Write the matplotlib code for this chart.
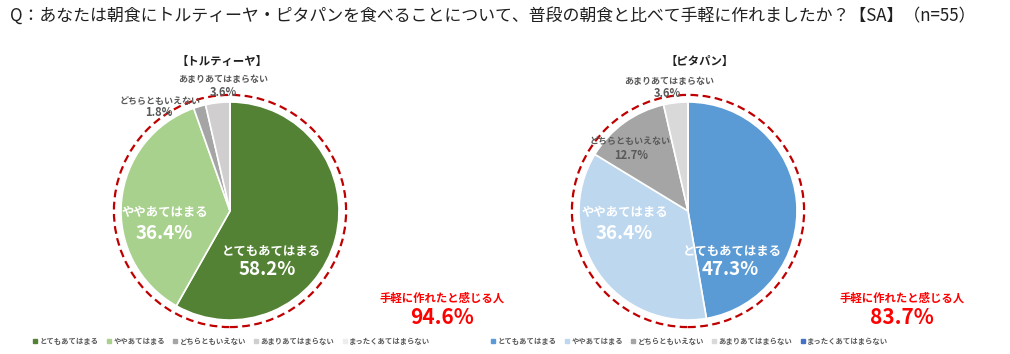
import matplotlib
matplotlib.use("Agg")
import matplotlib.pyplot as plt
from matplotlib.patches import Circle
from matplotlib.lines import Line2D

plt.rcParams['font.family'] = ['Noto Sans CJK JP', 'DejaVu Sans']

title = "Q：あなたは朝食にトルティーヤ・ピタパンを食べることについて、普段の朝食と比べて手軽に作れましたか？【SA】（n=55）"
categories = ["とてもあてはまる", "ややあてはまる", "どちらともいえない", "あまりあてはまらない", "まったくあてはまらない"]

tortilla_vals = [58.2, 36.4, 1.8, 3.6, 0.0]
pita_vals = [47.3, 36.4, 12.7, 3.6, 0.0]
tortilla_total = "94.6%"
pita_total = "83.7%"

tortilla_colors = ["#548235", "#A9D18E", "#A5A5A5", "#D0CECE", "#EDEDED"]
pita_colors = ["#5B9BD5", "#BDD7EE", "#A5A5A5", "#D9D9D9", "#4472C4"]

W, H = 1010, 354
fig = plt.figure(figsize=(W / 100, H / 100), dpi=100)


def fx(px):
    return px / W


def fy(py):
    return 1 - py / H


fig.text(fx(10), fy(16), title, fontsize=12.2, color="#202020", va="center", ha="left")

# label placement in pie units: (index, label x, label y, pct x, pct y, color, size label, size pct)
big = ("white", 8.9, 13.5)
small = ("#595959", 6.5, 8)
tortilla_labels = [
    (0, 0.376, -0.376, 0.339, -0.541) + big,
    (1, -0.596, -0.018, -0.606, -0.202) + big,
    (2, -0.642, 1.005, -0.651, 0.900) + small,
    (3, -0.064, 1.205, -0.064, 1.085) + small,
]
pita_labels = [
    (0, 0.404, -0.376, 0.385, -0.541) + big,
    (1, -0.578, -0.018, -0.587, -0.202) + big,
    (2, -0.532, 0.640, -0.523, 0.510) + small,
    (3, -0.174, 1.185, -0.193, 1.080) + small,
]


def draw_pie(cx, cy, r, vals, colors, name, name_x, labels, total, tx, leg_x):
    half = r * 1.2
    ax = fig.add_axes([fx(cx - half), fy(cy + half), 2 * half / W, 2 * half / H])
    ax.pie(vals, colors=colors, startangle=90, counterclock=False,
           wedgeprops=dict(edgecolor="white", linewidth=1.2), radius=1)
    ax.set_xlim(-1.2, 1.2)
    ax.set_ylim(-1.2, 1.2)
    ax.set_aspect("auto")
    ax.axis("off")
    ax.add_patch(Circle((0, 0), 1.065, fill=False, edgecolor="#C00000",
                        linestyle=(0, (3.5, 2)), linewidth=1.6, clip_on=False))
    for i, lx, ly, px, py, col, s1, s2 in labels:
        ax.text(lx, ly, categories[i], ha="center", va="center", color=col,
                fontsize=s1, fontweight="bold")
        ax.text(px, py, f"{vals[i]:.1f}%", ha="center", va="center", color=col,
                fontsize=s2, fontweight="bold")
    fig.text(fx(name_x), fy(61), name, ha="center", va="center", fontsize=8.2,
             fontweight="bold", color="#202020")
    fig.text(fx(tx), fy(298), "手軽に作れたと感じる人", ha="center", va="center",
             fontsize=8.2, fontweight="bold", color="#FF0000")
    fig.text(fx(tx), fy(318), total, ha="center", va="center",
             fontsize=15, fontweight="bold", color="#FF0000")
    handles = [Line2D([], [], marker="s", linestyle="", color=c, markersize=2.6) for c in colors]
    leg = fig.legend(handles, categories, loc="center", bbox_to_anchor=(fx(leg_x), fy(341)),
                     ncol=5, frameon=False, fontsize=5.3, handlelength=0.4,
                     handletextpad=0.4, columnspacing=1.2, borderpad=0, borderaxespad=0)
    for t in leg.get_texts():
        t.set_color("#595959")
        t.set_fontweight("bold")
    return ax


draw_pie(230, 211, 109, tortilla_vals, tortilla_colors, "【トルティーヤ】", 222,
         tortilla_labels, tortilla_total, 442, 232)
draw_pie(688, 211, 109, pita_vals, pita_colors, "【ピタパン】", 700,
         pita_labels, pita_total, 902, 690)

fig.savefig("out.png", dpi=100)
